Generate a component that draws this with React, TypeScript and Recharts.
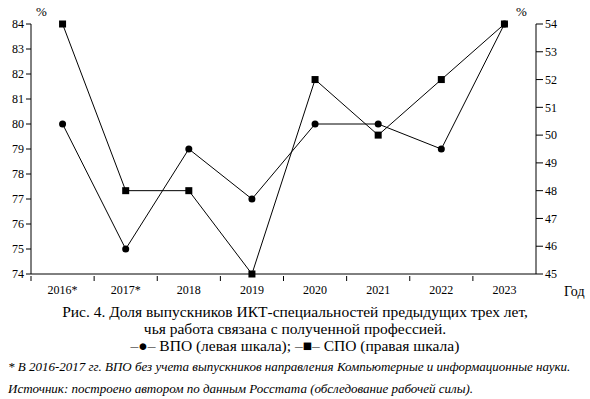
import { ComposedChart, Line, XAxis, YAxis } from "recharts"

const years = ["2016*", "2017*", "2018", "2019", "2020", "2021", "2022", "2023"]
const vpo = [80, 75, 79, 77, 80, 80, 79, 84]
const spo = [54, 48, 48, 45, 52, 50, 52, 54]
const leftTicks = [74, 75, 76, 77, 78, 79, 80, 81, 82, 83, 84]
const rightTicks = [45, 46, 47, 48, 49, 50, 51, 52, 53, 54]

const data = years.map((year, i) => ({ year, vpo: vpo[i], spo: spo[i] }))

const serif = "Liberation Serif, DejaVu Serif, serif"

const SquareDot = (props: any) => {
  const { cx, cy } = props
  if (cx == null || cy == null) return null
  return <rect x={cx - 3.5} y={cy - 3.5} width={7} height={7} fill="#000" />
}

// ticks sit between the years, labels under the year
const YearTick = (props: any) => {
  const { x, y, payload } = props
  const off = payload.offset || 0
  return (
    <g>
      <line x1={x - off} x2={x - off} y1={y - 5} y2={y} stroke="#000" />
      <text x={x} y={y + 13} textAnchor="middle" fontSize={12} fontFamily={serif} fill="#000">
        {payload.value}
      </text>
    </g>
  )
}

export default function App() {
  return (
    <div style={{ position: "absolute", left: 0, top: 0, width: 590, height: 399, background: "#fff", fontFamily: serif, color: "#000" }}>
      <ComposedChart width={590} height={300} data={data} margin={{ top: 24, right: 0, left: 0, bottom: 0 }}>
        <XAxis
          dataKey="year"
          scale="band"
          height={26}
          stroke="#000"
          tickLine={false}
          tickSize={5}
          tick={<YearTick />}
          interval={0}
        />
        <YAxis
          yAxisId="left"
          width={31}
          domain={[74, 84]}
          ticks={leftTicks}
          interval={0}
          stroke="#000"
          tickSize={5}
          tick={{ fill: "#000", fontSize: 12, fontFamily: serif }}
        />
        <YAxis
          yAxisId="right"
          orientation="right"
          width={54}
          domain={[45, 54]}
          ticks={rightTicks}
          interval={0}
          stroke="#000"
          tickSize={7}
          tick={{ fill: "#000", fontSize: 12, fontFamily: serif, textAnchor: "start" }}
        />
        <Line
          yAxisId="left"
          dataKey="vpo"
          stroke="#000"
          strokeWidth={1}
          dot={{ r: 3.5, fill: "#000", stroke: "#000", strokeWidth: 0 }}
          activeDot={false}
          isAnimationActive={false}
        />
        <Line
          yAxisId="right"
          dataKey="spo"
          stroke="#000"
          strokeWidth={1}
          dot={<SquareDot />}
          activeDot={false}
          isAnimationActive={false}
        />
      </ComposedChart>
      <div style={{ position: "absolute", left: 36, top: 4, fontSize: 13 }}>%</div>
      <div style={{ position: "absolute", left: 516, top: 4, fontSize: 13 }}>%</div>
      <div style={{ position: "absolute", left: 564, top: 284, fontSize: 14 }}>Год</div>
      <div style={{ position: "absolute", left: 0, top: 303, width: 590, textAlign: "center", fontSize: 15.5, lineHeight: "17px" }}>
        Рис. 4. Доля выпускников ИКТ-специальностей предыдущих трех лет,
        <br />
        чья работа связана с полученной профессией.
        <br />
        –●– ВПО (левая шкала); –■– СПО (правая шкала)
      </div>
      <div style={{ position: "absolute", left: 8, top: 359, fontSize: 13, fontStyle: "italic", whiteSpace: "nowrap" }}>
        * В 2016-2017 гг. ВПО без учета выпускников направления Компьютерные и информационные науки.
      </div>
      <div style={{ position: "absolute", left: 8, top: 381, fontSize: 13, fontStyle: "italic", whiteSpace: "nowrap" }}>
        Источник: построено автором по данным Росстата (обследование рабочей силы).
      </div>
    </div>
  )
}
